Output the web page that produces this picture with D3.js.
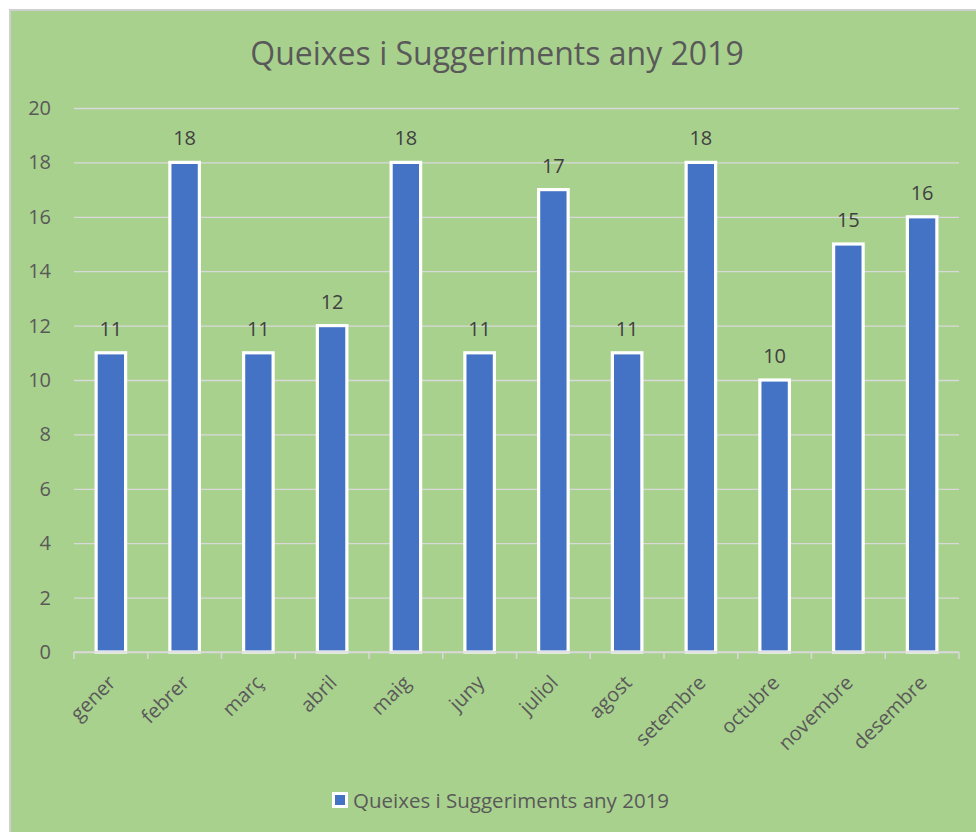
<!DOCTYPE html>
<html>
<head>
<meta charset="utf-8">
<script src="https://cdn.jsdelivr.net/npm/d3@7"></script>
<style>
    body { margin: 0; background: #ffffff; }
    svg { display: block; font-family: 'Open Sans', sans-serif; }
</style>
</head>
<body>
<svg id="chart-svg" width="976" height="832"></svg>
<script>
const MONTHS = ['gener', 'febrer', 'març', 'abril', 'maig', 'juny', 'juliol', 'agost', 'setembre', 'octubre', 'novembre', 'desembre'];
const COUNTS = [11, 18, 11, 12, 18, 11, 17, 11, 18, 10, 15, 16];
const Y_TICKS = [0, 2, 4, 6, 8, 10, 12, 14, 16, 18, 20];
const TITLE = 'Queixes i Suggeriments any 2019';
const SERIES_NAME = 'Queixes i Suggeriments any 2019';

const SVG_ITEM = d3.select('#chart-svg');
const PLOT = { left: 74, right: 959, top: 108, bottom: 652 }; // px
const TEXT_COLOR = '#595959';
const GRID_COLOR = '#d9d9d9';
const BAR_COLOR = '#4472c4';

generateChart(SVG_ITEM);

function generateChart(svg) {
    // chart background + thin border
    svg.append('rect')
        .attr('x', 10).attr('y', 10)
        .attr('width', 980).attr('height', 840)
        .attr('fill', '#a9d18e')
        .attr('stroke', '#d0d0d0')
        .attr('stroke-width', 2);

    svg.append('text')
        .attr('x', 497).attr('y', 65)
        .attr('text-anchor', 'middle')
        .attr('font-size', '32px')
        .attr('fill', TEXT_COLOR)
        .text(TITLE);

    const xScale = d3.scaleBand().domain(MONTHS)
        .range([PLOT.left, PLOT.right])
        .paddingInner(0.6).paddingOuter(0.3);
    const yScale = d3.scaleLinear().domain([0, 20]).range([PLOT.bottom, PLOT.top]);

    // gridlines (y axis without domain line)
    const yAxis = d3.axisLeft(yScale).tickValues(Y_TICKS).tickSize(-(PLOT.right - PLOT.left)).tickPadding(23);
    const gy = svg.append('g').attr('id', 'y-axis')
        .attr('transform', 'translate(' + PLOT.left + ',0)')
        .call(yAxis);
    gy.select('.domain').remove();
    gy.selectAll('line').attr('stroke', GRID_COLOR).attr('stroke-width', 1.3);
    gy.selectAll('text').attr('font-size', '20px').attr('fill', TEXT_COLOR)
        .attr('font-family', 'Open Sans, sans-serif');

    svg.append('g').selectAll('rect')
        .data(COUNTS)
        .enter()
        .append('rect')
        .attr('x', (d, i) => xScale(MONTHS[i]))
        .attr('y', (d) => yScale(d))
        .attr('width', xScale.bandwidth())
        .attr('height', (d) => PLOT.bottom - yScale(d))
        .attr('fill', BAR_COLOR)
        .attr('stroke', '#ffffff')
        .attr('stroke-width', 3.2);

    // value labels
    svg.append('g').selectAll('text')
        .data(COUNTS)
        .enter()
        .append('text')
        .attr('x', (d, i) => xScale(MONTHS[i]) + xScale.bandwidth() / 2)
        .attr('y', (d) => yScale(d) - 17)
        .attr('text-anchor', 'middle')
        .attr('font-size', '20px')
        .attr('fill', '#404040')
        .text((d) => d);

    // x axis: baseline + ticks between categories
    const step = xScale.step();
    const boundaries = d3.range(MONTHS.length + 1).map((i) => PLOT.left + i * step);
    const gx = svg.append('g').attr('id', 'x-axis');
    gx.append('line')
        .attr('x1', PLOT.left).attr('x2', PLOT.right)
        .attr('y1', PLOT.bottom).attr('y2', PLOT.bottom)
        .attr('stroke', GRID_COLOR).attr('stroke-width', 1.5);
    gx.selectAll('line.tick')
        .data(boundaries)
        .enter()
        .append('line')
        .attr('class', 'tick')
        .attr('x1', (d) => d).attr('x2', (d) => d)
        .attr('y1', PLOT.bottom).attr('y2', PLOT.bottom + 7)
        .attr('stroke', GRID_COLOR).attr('stroke-width', 1.5);
    gx.selectAll('text')
        .data(MONTHS)
        .enter()
        .append('text')
        .attr('transform', (d) => 'translate(' + (xScale(d) + xScale.bandwidth() / 2 + 1) + ',' + (PLOT.bottom + 27) + ') rotate(-45)')
        .attr('text-anchor', 'end')
        .attr('dy', '0.35em')
        .attr('font-size', '20px')
        .attr('fill', TEXT_COLOR)
        .text((d) => d);

    // legend
    const legend = svg.append('g').attr('transform', 'translate(332, 792)');
    legend.append('rect')
        .attr('x', 1.5).attr('y', 1.5)
        .attr('width', 13).attr('height', 13)
        .attr('fill', BAR_COLOR)
        .attr('stroke', '#ffffff')
        .attr('stroke-width', 3);
    legend.append('text')
        .attr('x', 21).attr('y', 16)
        .attr('font-size', '20.5px')
        .attr('fill', TEXT_COLOR)
        .text(SERIES_NAME);
}
</script>
</body>
</html>
